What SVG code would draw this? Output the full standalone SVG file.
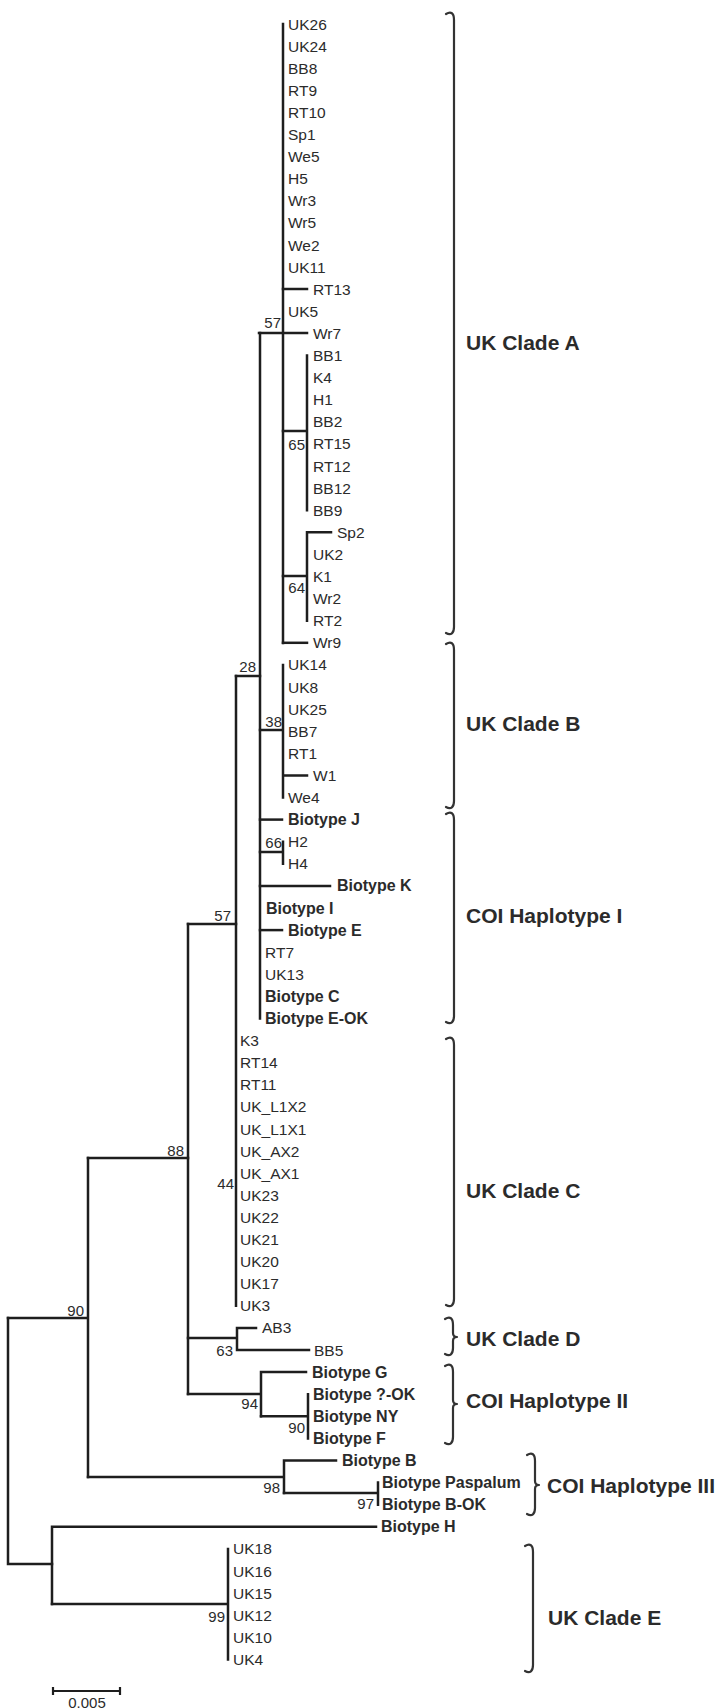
<svg xmlns="http://www.w3.org/2000/svg" width="721" height="1708" viewBox="0 0 721 1708">
<style>
text{font-family:"Liberation Sans",Arial,Helvetica,sans-serif;fill:#2b2b2b}
.lf{font-size:15.5px}
.lb{font-size:16px;font-weight:bold}
.bs{font-size:15px;text-anchor:end}
.grp{font-size:21px;font-weight:bold}
.br{fill:none;stroke:#1e1e1e;stroke-width:2.5;stroke-linecap:square}
.brace{fill:none;stroke:#333;stroke-width:2.2;stroke-linecap:round;stroke-linejoin:round}
</style>
<rect width="721" height="1708" fill="#fff"/>
<g id="connectors" class="br">
<path d="M283,24 V643"/>
<path d="M259,333 H307"/>
<path d="M283,289 H307"/>
<path d="M283,431 H307 M307,355.5 V510.2"/>
<path d="M283,576 H307 M307,532.3 V620.7 M307,532.3 H331"/>
<path d="M283,642.8 H307"/>
<path d="M260,333 V1018.5"/>
<path d="M236,676 H260"/>
<path d="M260,730 H283 M283,664.9 V797.5 M283,775.4 H307"/>
<path d="M260,819.6 H282"/>
<path d="M260,852 H283 M283,841.7 V863.8"/>
<path d="M260,885.9 H330"/>
<path d="M260,930.1 H282"/>
<path d="M236,676 V1305.8"/>
<path d="M188,924 H236"/>
<path d="M188,924 V1394"/>
<path d="M88,1158 H188"/>
<path d="M188,1338 H237 M237,1327.9 V1350 M237,1327.9 H256 M237,1350 H309"/>
<path d="M188,1394 H261 M261,1372.1 V1416.3 M261,1372.1 H306"/>
<path d="M261,1416.3 H308 M308,1394.2 V1438.4"/>
<path d="M8,1318 H88 M88,1158 V1477"/>
<path d="M88,1477 H284 M284,1460.5 V1493 M284,1460.5 H336"/>
<path d="M284,1493 H378 M378,1482.6 V1504.7"/>
<path d="M8,1318 V1564 H52"/>
<path d="M52,1526.8 V1604 M52,1526.8 H376"/>
<path d="M52,1604 H228 M228,1548.9 V1659.4"/>
</g>
<g id="leaves" class="lf">
<g id="n-UK26"><text x="288" y="29.5">UK26</text></g>
<g id="n-UK24"><text x="288" y="51.6">UK24</text></g>
<g id="n-BB8"><text x="288" y="73.7">BB8</text></g>
<g id="n-RT9"><text x="288" y="95.8">RT9</text></g>
<g id="n-RT10"><text x="288" y="117.9">RT10</text></g>
<g id="n-Sp1"><text x="288" y="140">Sp1</text></g>
<g id="n-We5"><text x="288" y="162.1">We5</text></g>
<g id="n-H5"><text x="288" y="184.2">H5</text></g>
<g id="n-Wr3"><text x="288" y="206.3">Wr3</text></g>
<g id="n-Wr5"><text x="288" y="228.4">Wr5</text></g>
<g id="n-We2"><text x="288" y="250.5">We2</text></g>
<g id="n-UK11"><text x="288" y="272.6">UK11</text></g>
<g id="n-RT13"><text x="313" y="294.7">RT13</text></g>
<g id="n-UK5"><text x="288" y="316.8">UK5</text></g>
<g id="n-Wr7"><text x="313" y="338.9">Wr7</text></g>
<g id="n-BB1"><text x="313" y="361">BB1</text></g>
<g id="n-K4"><text x="313" y="383.1">K4</text></g>
<g id="n-H1"><text x="313" y="405.2">H1</text></g>
<g id="n-BB2"><text x="313" y="427.3">BB2</text></g>
<g id="n-RT15"><text x="313" y="449.4">RT15</text></g>
<g id="n-RT12"><text x="313" y="471.5">RT12</text></g>
<g id="n-BB12"><text x="313" y="493.6">BB12</text></g>
<g id="n-BB9"><text x="313" y="515.7">BB9</text></g>
<g id="n-Sp2"><text x="337" y="537.8">Sp2</text></g>
<g id="n-UK2"><text x="313" y="559.9">UK2</text></g>
<g id="n-K1"><text x="313" y="582">K1</text></g>
<g id="n-Wr2"><text x="313" y="604.1">Wr2</text></g>
<g id="n-RT2"><text x="313" y="626.2">RT2</text></g>
<g id="n-Wr9"><text x="313" y="648.3">Wr9</text></g>
<g id="n-UK14"><text x="288" y="670.4">UK14</text></g>
<g id="n-UK8"><text x="288" y="692.5">UK8</text></g>
<g id="n-UK25"><text x="288" y="714.6">UK25</text></g>
<g id="n-BB7"><text x="288" y="736.7">BB7</text></g>
<g id="n-RT1"><text x="288" y="758.8">RT1</text></g>
<g id="n-W1"><text x="313" y="780.9">W1</text></g>
<g id="n-We4"><text x="288" y="803">We4</text></g>
<g id="n-BiotypeJ"><text class="lb" x="288" y="825.1">Biotype J</text></g>
<g id="n-H2"><text x="288" y="847.2">H2</text></g>
<g id="n-H4"><text x="288" y="869.3">H4</text></g>
<g id="n-BiotypeK"><text class="lb" x="337" y="891.4">Biotype K</text></g>
<g id="n-BiotypeI"><text class="lb" x="266" y="913.5">Biotype I</text></g>
<g id="n-BiotypeE"><text class="lb" x="288" y="935.6">Biotype E</text></g>
<g id="n-RT7"><text x="265" y="957.7">RT7</text></g>
<g id="n-UK13"><text x="265" y="979.8">UK13</text></g>
<g id="n-BiotypeC"><text class="lb" x="265" y="1001.9">Biotype C</text></g>
<g id="n-BiotypeE-OK"><text class="lb" x="265" y="1024">Biotype E-OK</text></g>
<g id="n-K3"><text x="240" y="1046.1">K3</text></g>
<g id="n-RT14"><text x="240" y="1068.2">RT14</text></g>
<g id="n-RT11"><text x="240" y="1090.3">RT11</text></g>
<g id="n-UK_L1X2"><text x="240" y="1112.4">UK_L1X2</text></g>
<g id="n-UK_L1X1"><text x="240" y="1134.5">UK_L1X1</text></g>
<g id="n-UK_AX2"><text x="240" y="1156.6">UK_AX2</text></g>
<g id="n-UK_AX1"><text x="240" y="1178.7">UK_AX1</text></g>
<g id="n-UK23"><text x="240" y="1200.8">UK23</text></g>
<g id="n-UK22"><text x="240" y="1222.9">UK22</text></g>
<g id="n-UK21"><text x="240" y="1245">UK21</text></g>
<g id="n-UK20"><text x="240" y="1267.1">UK20</text></g>
<g id="n-UK17"><text x="240" y="1289.2">UK17</text></g>
<g id="n-UK3"><text x="240" y="1311.3">UK3</text></g>
<g id="n-AB3"><text x="262" y="1333.4">AB3</text></g>
<g id="n-BB5"><text x="314" y="1355.5">BB5</text></g>
<g id="n-BiotypeG"><text class="lb" x="312" y="1377.6">Biotype G</text></g>
<g id="n-BiotypeQ-OK"><text class="lb" x="313" y="1399.7">Biotype ?-OK</text></g>
<g id="n-BiotypeNY"><text class="lb" x="313" y="1421.8">Biotype NY</text></g>
<g id="n-BiotypeF"><text class="lb" x="313" y="1443.9">Biotype F</text></g>
<g id="n-BiotypeB"><text class="lb" x="342" y="1466">Biotype B</text></g>
<g id="n-BiotypePaspalum"><text class="lb" x="382" y="1488.1">Biotype Paspalum</text></g>
<g id="n-BiotypeB-OK"><text class="lb" x="382" y="1510.2">Biotype B-OK</text></g>
<g id="n-BiotypeH"><text class="lb" x="381" y="1532.3">Biotype H</text></g>
<g id="n-UK18"><text x="233" y="1554.4">UK18</text></g>
<g id="n-UK16"><text x="233" y="1576.5">UK16</text></g>
<g id="n-UK15"><text x="233" y="1598.6">UK15</text></g>
<g id="n-UK12"><text x="233" y="1620.7">UK12</text></g>
<g id="n-UK10"><text x="233" y="1642.8">UK10</text></g>
<g id="n-UK4"><text x="233" y="1664.9">UK4</text></g>
</g>
<g id="bootstrap" class="bs">
<text x="281" y="328">57</text>
<text x="305" y="450">65</text>
<text x="305" y="593">64</text>
<text x="256" y="672">28</text>
<text x="282" y="727">38</text>
<text x="282" y="848">66</text>
<text x="231" y="921">57</text>
<text x="184" y="1156">88</text>
<text x="234" y="1189">44</text>
<text x="84" y="1316">90</text>
<text x="233" y="1356">63</text>
<text x="258" y="1409">94</text>
<text x="305" y="1433">90</text>
<text x="280" y="1493">98</text>
<text x="374" y="1509">97</text>
<text x="225" y="1622">99</text>
</g>
<g id="clade-A"><path class="brace" d="M446,14 C451,11 454,13 454,20 V627 C454,633 451,636 446,633"/><text class="grp" x="466" y="350">UK Clade A</text></g>
<g id="clade-B"><path class="brace" d="M446,644 C451,641 454,643 454,650 V801 C454,807 451,810 446,807"/><text class="grp" x="466" y="731">UK Clade B</text></g>
<g id="coi-I"><path class="brace" d="M446,814 C451,811 454,813 454,820 V1016 C454,1022 451,1025 446,1022"/><text class="grp" x="466" y="923">COI Haplotype I</text></g>
<g id="clade-C"><path class="brace" d="M446,1039 C451,1036 454,1038 454,1045 V1299 C454,1305 451,1308 446,1305"/><text class="grp" x="466" y="1198">UK Clade C</text></g>
<g id="clade-D"><path class="brace" d="M445,1319 C450,1316 453,1318 453,1325 V1333 Q453,1337 457,1337 Q453,1337 453,1341 V1348 C453,1354 450,1357 445,1354"/><text class="grp" x="466" y="1346">UK Clade D</text></g>
<g id="coi-II"><path class="brace" d="M445,1366 C450,1363 453,1365 453,1372 V1400 Q453,1404 457,1404 Q453,1404 453,1408 V1437 C453,1443 450,1446 445,1443"/><text class="grp" x="466" y="1408">COI Haplotype II</text></g>
<g id="coi-III"><path class="brace" d="M527,1455 C532,1452 535,1454 535,1461 V1481 Q535,1485 539,1485 Q535,1485 535,1489 V1508 C535,1514 532,1517 527,1514"/><text class="grp" x="547" y="1493">COI Haplotype III</text></g>
<g id="clade-E"><path class="brace" d="M525,1546 C530,1543 533,1545 533,1552 V1665 C533,1671 530,1674 525,1671"/><text class="grp" x="548" y="1625">UK Clade E</text></g>
<g id="scale-bar">
<path class="br" d="M53,1691 H120 M53,1688 V1694 M120,1688 V1694" style="stroke-width:2.2"/>
<text x="87" y="1707.5" style="font-size:15px;text-anchor:middle">0.005</text>
</g>
</svg>
